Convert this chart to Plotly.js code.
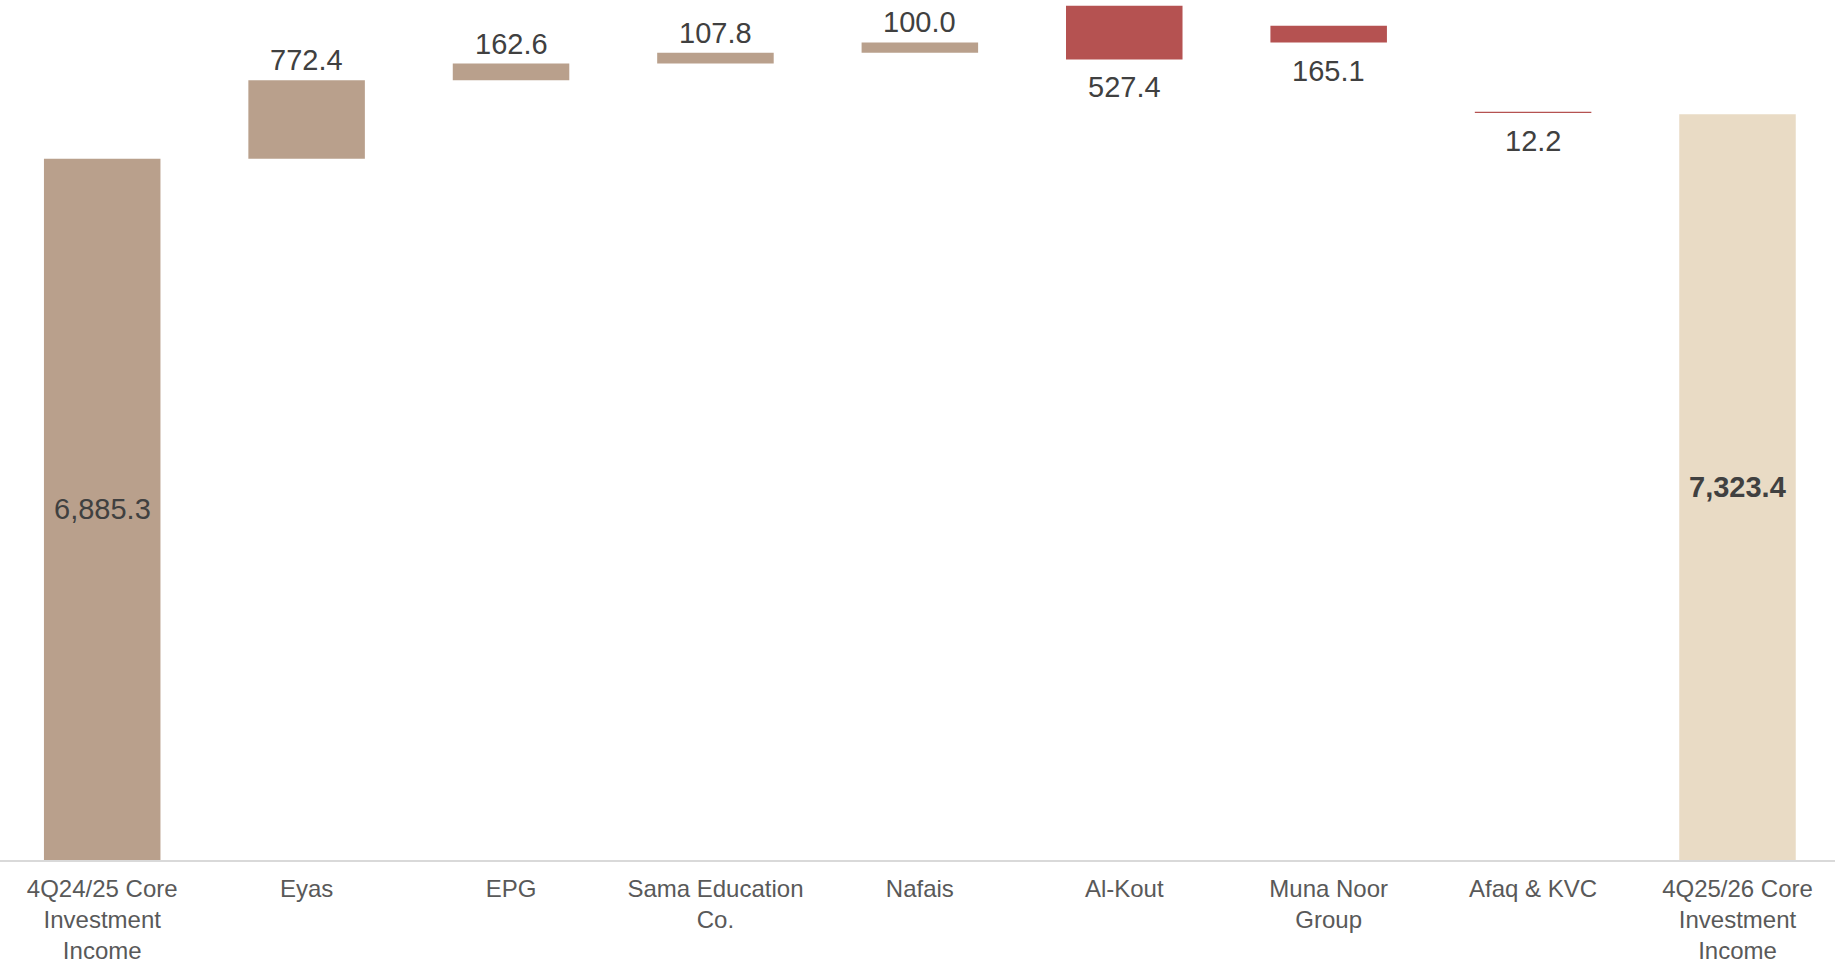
<!DOCTYPE html>
<html>
<head>
<meta charset="utf-8">
<script src="https://cdn.plot.ly/plotly-3.0.1.min.js"></script>
<style>
  html, body { margin: 0; padding: 0; background: #ffffff; }
  #chart { width: 1835px; height: 965px; }
</style>
</head>
<body>
<div id="chart"></div>
<script>
// ---- data ----
const categories = [
  "4Q24/25 Core<br>Investment<br>Income",
  "Eyas",
  "EPG",
  "Sama Education<br>Co.",
  "Nafais",
  "Al-Kout",
  "Muna Noor<br>Group",
  "Afaq & KVC",
  "4Q25/26 Core<br>Investment<br>Income"
];
// bar length (signed): totals and increases positive, decreases negative
const values = [6885.3, 772.4, 162.6, 107.8, 100.0, -527.4, -165.1, -12.2, 7323.4];
// where each bar starts (for decreases: the top of the bar), as drawn in the reference
const bases  = [0, 6885.3, 7657.7, 7820.3, 7928.1, 8389, 8192, 7348, 0];
// bar kind: total / up / down / final
const kinds  = ["total", "up", "up", "up", "up", "down", "down", "down", "final"];

const colorOf = {
  total: "#B9A08C",
  up:    "#B9A08C",
  down:  "#B55251",
  final: "#E9DBC5"
};

const fmt = v => Math.abs(v).toLocaleString("en-US", {minimumFractionDigits: 1, maximumFractionDigits: 1});

const trace = {
  type: "bar",
  x: categories,
  y: values,
  base: bases,
  marker: { color: kinds.map(k => colorOf[k]), line: { width: 0 } },
  hoverinfo: "skip",
  showlegend: false
};

const valFont = { family: "Liberation Sans, Arial, sans-serif", size: 29, color: "#404040" };

const annotations = categories.map((c, i) => {
  const v = values[i], b = bases[i], k = kinds[i];
  if (k === "total" || k === "final") {
    return {
      x: c, y: b + v / 2, xref: "x", yref: "y",
      text: k === "final" ? "<b>" + fmt(v) + "</b>" : fmt(v),
      showarrow: false, yanchor: "middle", xanchor: "center",
      font: valFont
    };
  }
  if (k === "up") {
    return {
      x: c, y: b + v, xref: "x", yref: "y",
      text: fmt(v), showarrow: false, yanchor: "bottom", xanchor: "center",
      yshift: 2, font: valFont
    };
  }
  return {
    x: c, y: b + v, xref: "x", yref: "y",
    text: fmt(v), showarrow: false, yanchor: "top", xanchor: "center",
    yshift: -10, font: valFont
  };
});

const layout = {
  width: 1835,
  height: 965,
  margin: { l: 0, r: 0, t: 0, b: 105, pad: 0 },
  paper_bgcolor: "#ffffff",
  plot_bgcolor: "#ffffff",
  bargap: 0.43,
  xaxis: {
    type: "category",
    range: [-0.5, 8.477],
    showline: true,
    linecolor: "#D9D9D9",
    linewidth: 2,
    showgrid: false,
    zeroline: false,
    ticks: "",
    ticklabelstandoff: 6,
    tickfont: { family: "Liberation Sans, Arial, sans-serif", size: 24, color: "#595959" },
    fixedrange: true
  },
  yaxis: {
    range: [0, 8445],
    visible: false,
    showgrid: false,
    zeroline: false,
    fixedrange: true
  },
  annotations: annotations,
  font: { family: "Liberation Sans, Arial, sans-serif" }
};

Plotly.newPlot("chart", [trace], layout, { displayModeBar: false, staticPlot: true });
</script>
</body>
</html>
